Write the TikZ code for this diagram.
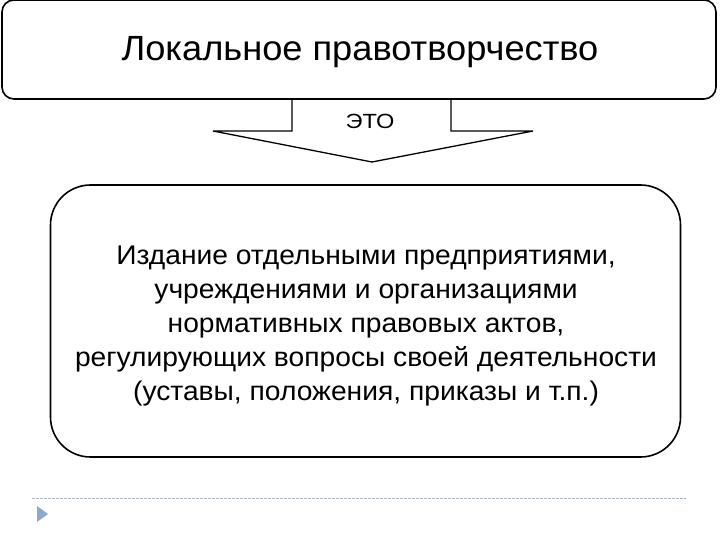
\documentclass[tikz,border=0pt]{standalone}
\usepackage{fontspec}
\setmainfont{Liberation Sans}
\usetikzlibrary{positioning}
\definecolor{slidegray}{RGB}{170,180,190}
\definecolor{slideblue}{RGB}{140,170,205}
\tikzset{
  termbox/.style={draw, line width=1.6pt, rounded corners=12pt, minimum width=714pt, minimum height=99pt, inner sep=0pt},
  defbox/.style={draw, line width=1.6pt, rounded corners=40pt, minimum width=630pt, minimum height=272pt, inner sep=0pt},
}
\begin{document}
\begin{tikzpicture}[x=1pt,y=-1pt]
        \useasboundingbox (0,0) rectangle (720,540);

        % Top box with the term
        \node[termbox] (term) at (359,49.5) {};
        \node[font=\fontsize{35}{40}\selectfont, xscale=1.035] (title) at (360,52) {Локальное правотворчество};

        % Block arrow below the term
        \coordinate (shaftL) at (292,99);
        \coordinate (shaftR) at (451,99);
        \draw[line width=1.3pt] (shaftL) -- (292,131) -- (213,131) -- (372,162) -- (533,131) -- (451,131) -- (shaftR);
        \node[font=\fontsize{20.5}{24}\selectfont, xscale=1.15] (eto) at (370,121) {ЭТО};

        % Lower box with the definition
        \node[defbox] (def) at (365.5,321) {};
        \node[font=\fontsize{27}{34}\selectfont, align=center, xscale=1.045] (text) at (366,326)
          {Издание отдельными предприятиями,\\
           учреждениями и организациями\\
           нормативных правовых актов,\\
           регулирующих вопросы своей деятельности\\
           (уставы, положения, приказы и т.п.)};

        % Slide footer: dashed rule and bullet
        \draw[slidegray, dashed, dash pattern=on 3pt off 1pt, line width=0.8pt] (32,498) -- (686,498);
        \fill[slideblue] (37,506) -- (48,514) -- (37,522) -- cycle;
\end{tikzpicture}
\end{document}
